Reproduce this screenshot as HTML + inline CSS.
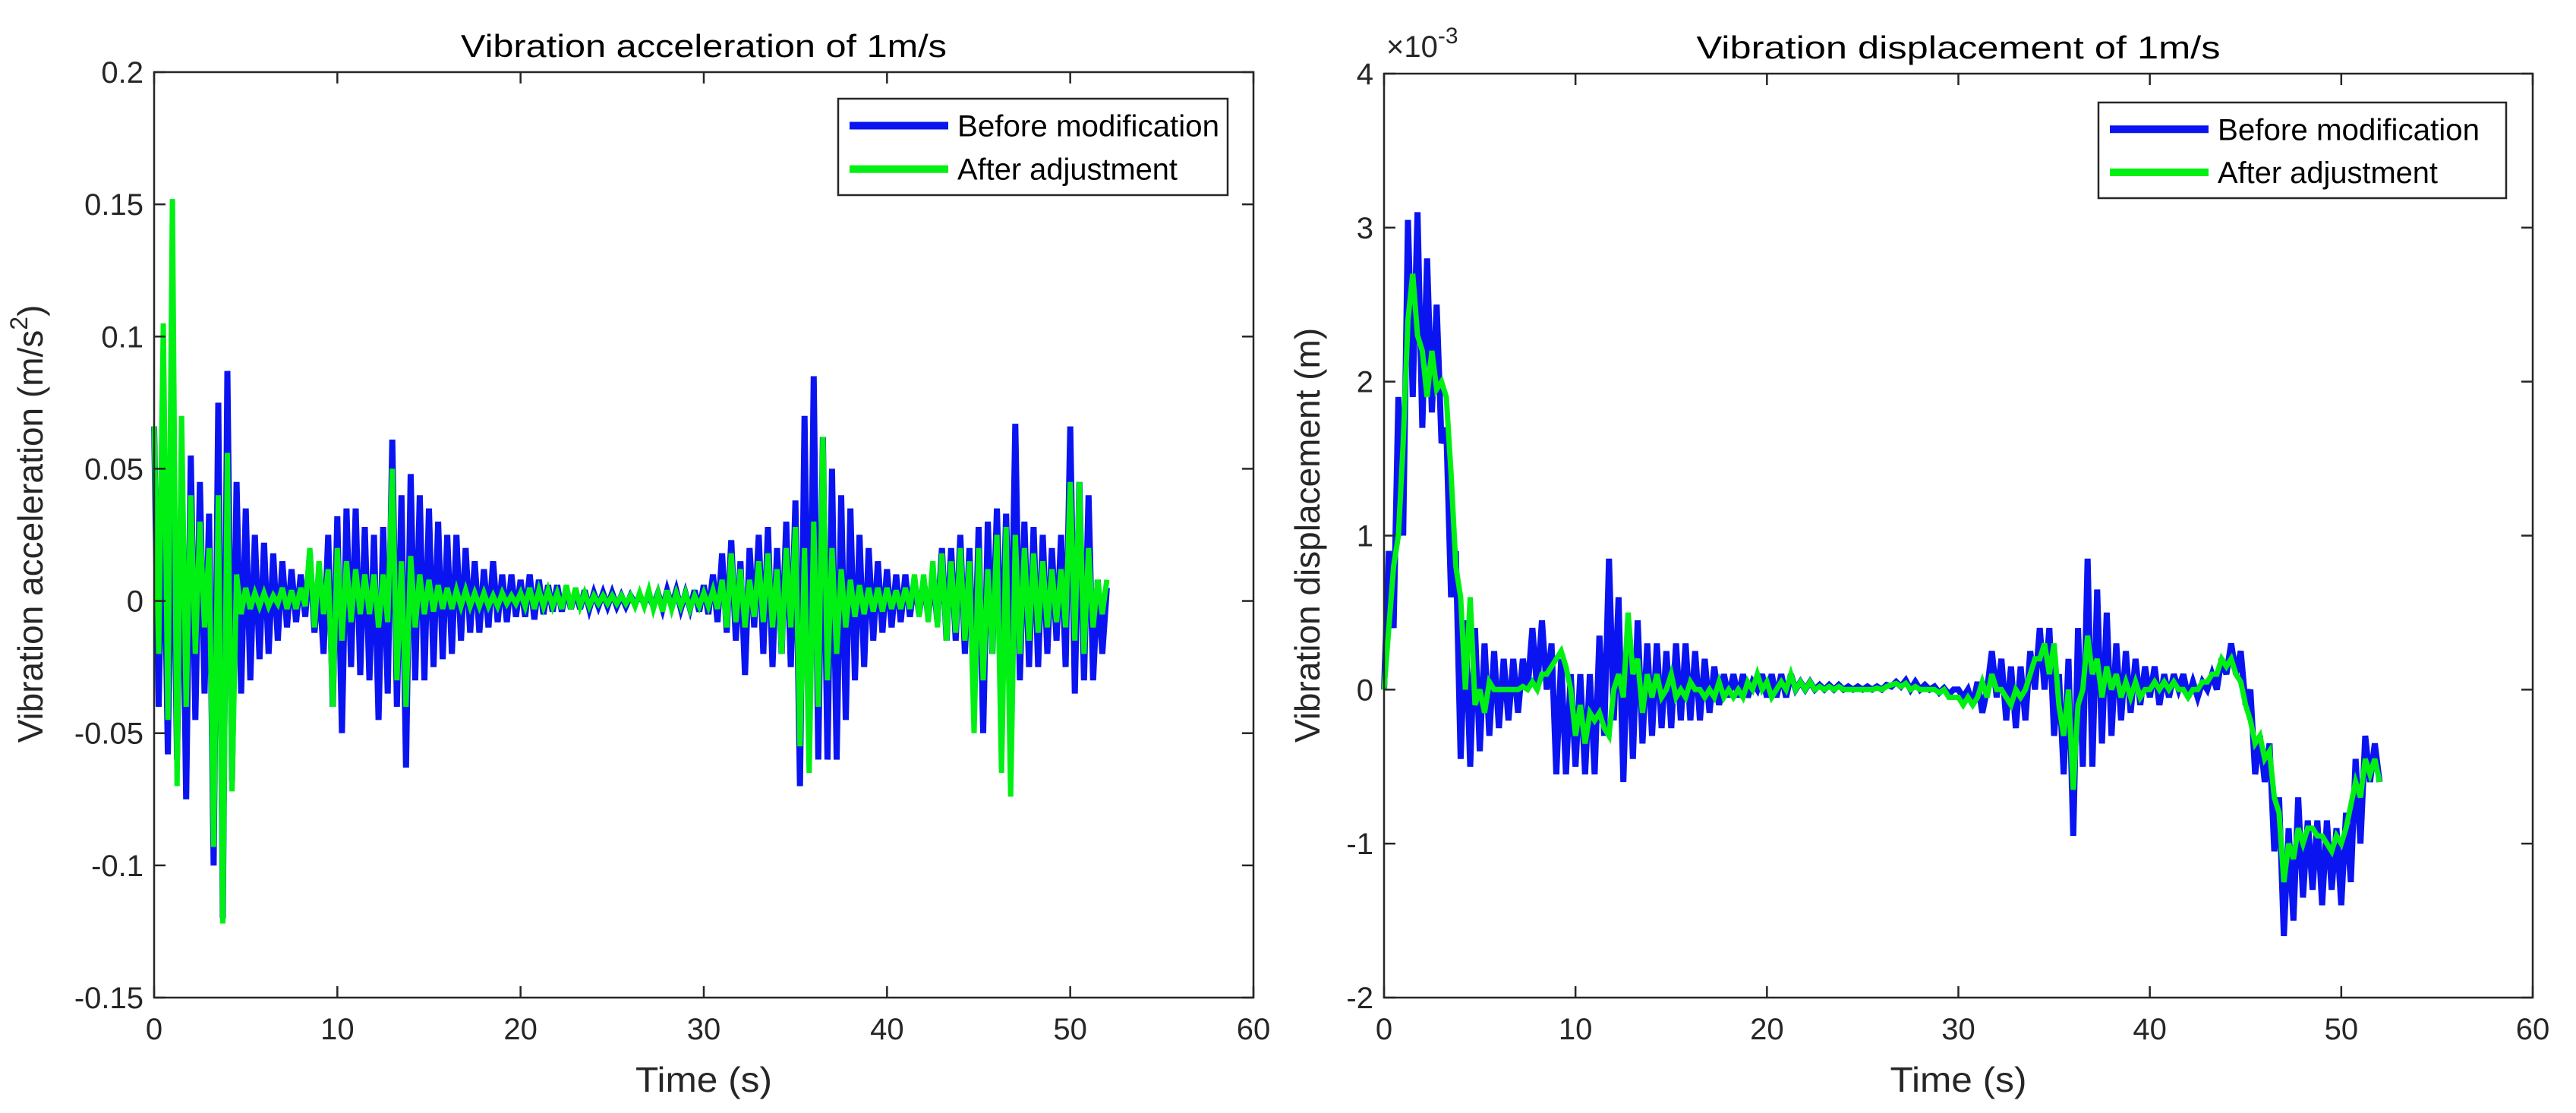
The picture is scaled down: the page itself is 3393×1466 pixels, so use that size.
<!DOCTYPE html>
<html><head><meta charset="utf-8"><style>
body{margin:0;background:#fff;}
svg{display:block;font-family:"Liberation Sans",sans-serif;}
</style></head><body>
<svg id="fig" width="3393" height="1466" viewBox="0 0 3393 1466"></svg>
<script>
const xTicks=[0,10,20,30,40,50,60];
const accTicks=[-0.15,-0.1,-0.05,0,0.05,0.1,0.15,0.2];
const accTickLabels=["-0.15","-0.1","-0.05","0","0.05","0.1","0.15","0.2"];
const dispTicks=[-2,-1,0,1,2,3,4];
const dispTickLabels=["-2","-1","0","1","2","3","4"];
const timeStep=0.25;
const accBefore=[0.066,-0.04,0.05,-0.058,0.06,-0.06,0.05,-0.075,0.055,-0.045,0.045,-0.035,0.033,-0.1,0.075,-0.12,0.087,-0.068,0.045,-0.035,
0.035,-0.03,0.025,-0.022,0.022,-0.02,0.018,-0.015,0.015,-0.01,0.012,-0.008,0.01,-0.006,0.018,-0.012,0.008,-0.02,0.025,-0.04,
0.032,-0.05,0.035,-0.025,0.035,-0.028,0.028,-0.03,0.025,-0.045,0.028,-0.035,0.061,-0.04,0.04,-0.063,0.048,-0.03,0.04,-0.03,
0.035,-0.025,0.03,-0.022,0.025,-0.02,0.025,-0.015,0.02,-0.012,0.015,-0.012,0.012,-0.01,0.015,-0.008,0.01,-0.008,0.01,-0.006,
0.008,-0.006,0.01,-0.007,0.008,-0.005,0.006,-0.004,0.006,-0.004,0.005,-0.003,0.004,-0.003,0.004,-0.003,0.003,-0.002,0.003,-0.002,
0.003,-0.002,0.002,-0.002,0.002,-0.001,0.002,-0.001,0.002,-0.002,0.003,-0.003,0.004,-0.002,0.004,-0.003,0.003,-0.003,0.004,-0.004,
0.006,-0.005,0.01,-0.008,0.018,-0.012,0.023,-0.015,0.015,-0.028,0.02,-0.01,0.025,-0.02,0.028,-0.025,0.02,-0.02,0.03,-0.025,
0.038,-0.07,0.07,-0.055,0.085,-0.06,0.062,-0.06,0.05,-0.06,0.04,-0.045,0.035,-0.03,0.025,-0.025,0.02,-0.015,0.015,-0.012,
0.012,-0.01,0.01,-0.008,0.01,-0.006,0.008,-0.005,0.008,-0.006,0.01,-0.008,0.02,-0.015,0.02,-0.015,0.025,-0.02,0.02,-0.035,
0.028,-0.05,0.03,-0.02,0.035,-0.03,0.033,-0.035,0.067,-0.03,0.03,-0.025,0.028,-0.025,0.025,-0.02,0.02,-0.015,0.025,-0.025,
0.066,-0.035,0.045,-0.03,0.04,-0.03,0.008,-0.02,0.005];
const accAfter=[0.066,-0.02,0.105,-0.045,0.152,-0.07,0.07,-0.04,0.04,-0.02,0.03,-0.01,0.02,-0.093,0.04,-0.122,0.056,-0.072,0.01,-0.005,
0.005,-0.003,0.003,-0.002,0.003,-0.002,0.002,-0.001,0.005,-0.003,0.004,-0.003,0.005,-0.002,0.02,-0.01,0.015,-0.005,0.012,-0.04,
0.02,-0.015,0.015,-0.008,0.012,-0.005,0.01,-0.005,0.01,-0.01,0.01,-0.008,0.05,-0.03,0.015,-0.04,0.017,-0.01,0.01,-0.005,
0.008,-0.004,0.006,-0.003,0.005,-0.003,0.004,-0.002,0.004,-0.002,0.003,-0.002,0.003,-0.002,0.002,-0.002,0.003,-0.001,0.002,-0.001,
0.003,-0.002,0.005,-0.003,0.004,-0.002,0.004,-0.002,0.003,-0.003,0.006,-0.003,0.005,-0.002,0.003,-0.002,0.002,-0.001,0.002,-0.001,
0.002,-0.001,0.002,-0.001,0.002,-0.002,0.003,-0.002,0.004,-0.003,0.003,-0.004,0.004,-0.003,0.003,-0.002,0.003,-0.003,0.002,-0.002,
0.003,-0.002,0.004,-0.003,0.008,-0.01,0.018,-0.008,0.012,-0.01,0.008,-0.006,0.015,-0.008,0.018,-0.01,0.012,-0.02,0.02,-0.01,
0.028,-0.055,0.02,-0.065,0.03,-0.04,0.062,-0.03,0.02,-0.02,0.012,-0.01,0.008,-0.006,0.006,-0.005,0.005,-0.004,0.005,-0.004,
0.005,-0.003,0.004,-0.003,0.005,-0.003,0.01,-0.006,0.01,-0.008,0.015,-0.01,0.018,-0.015,0.015,-0.012,0.02,-0.015,0.015,-0.05,
0.02,-0.03,0.012,-0.02,0.025,-0.065,0.028,-0.074,0.025,-0.02,0.02,-0.015,0.018,-0.012,0.015,-0.01,0.012,-0.008,0.012,-0.01,
0.045,-0.015,0.045,-0.02,0.02,-0.01,0.008,-0.005,0.008];
const dispBefore=[0,0.9,0.4,1.9,1.0,3.05,1.9,3.1,1.7,2.8,1.8,2.5,1.6,1.7,0.6,0.9,-0.45,0.45,-0.5,0.4,
-0.4,0.3,-0.3,0.25,-0.25,0.2,-0.2,0.2,-0.15,0.2,0.0,0.4,0.0,0.45,0.0,0.3,-0.55,0.2,-0.55,0.1,
-0.5,0.1,-0.55,0.1,-0.55,0.35,-0.3,0.85,-0.2,0.6,-0.6,0.45,-0.45,0.45,-0.35,0.3,-0.3,0.3,-0.25,0.25,
-0.25,0.3,-0.2,0.3,-0.2,0.25,-0.2,0.2,-0.15,0.15,-0.1,0.1,-0.05,0.1,-0.05,0.1,-0.05,0.05,0.0,0.1,
-0.05,0.1,-0.05,0.1,-0.05,0.1,0.0,0.05,0.0,0.05,0.0,0.03,0.0,0.03,0.0,0.03,0.0,0.02,0.0,0.02,
0.0,0.02,0.0,0.02,0.0,0.03,0.02,0.05,0.02,0.06,0.0,0.05,0.0,0.03,0.0,0.02,-0.02,0.01,-0.03,0.0,
0.0,-0.05,0.0,-0.1,0.05,-0.15,0.0,0.25,-0.05,0.2,-0.2,0.15,-0.25,0.15,-0.2,0.25,0.0,0.4,0.0,0.4,
-0.3,0.1,-0.55,0.2,-0.95,0.4,-0.5,0.85,-0.5,0.65,-0.35,0.5,-0.3,0.3,-0.2,0.25,-0.15,0.2,-0.1,0.15,
-0.05,0.15,-0.1,0.1,-0.05,0.1,0.0,0.1,-0.05,0.05,-0.05,0.05,0.0,0.1,0.0,0.2,0.1,0.3,0.1,0.25,
-0.1,0.0,-0.55,-0.3,-0.6,-0.35,-1.05,-0.7,-1.6,-0.9,-1.5,-0.7,-1.35,-0.85,-1.3,-0.85,-1.4,-0.85,-1.3,-0.9,
-1.4,-0.8,-1.25,-0.45,-1.0,-0.3,-0.6,-0.35,-0.6];
const dispAfter=[0,0.4,0.8,1.0,1.6,2.4,2.7,2.3,2.2,1.9,2.2,1.95,2.0,1.9,1.4,0.8,0.6,0.0,0.6,-0.1,
0.0,-0.15,0.05,0.0,0.0,0.0,0.0,0.0,0.0,0.02,0.0,0.05,0.0,0.1,0.1,0.15,0.2,0.25,0.15,0.0,
-0.3,-0.1,-0.35,-0.15,-0.2,-0.15,-0.25,-0.3,0.0,0.1,-0.05,0.5,0.1,0.2,-0.15,0.1,-0.05,0.1,-0.05,0.0,
0.1,-0.05,0.0,-0.05,0.05,0.0,0.0,-0.05,0.0,-0.05,0.05,-0.05,0.0,-0.05,0.0,-0.05,0.05,0.0,0.1,0.0,
0.05,-0.05,0.0,0.05,0.0,0.1,0.0,0.05,0.0,0.05,0.0,0.02,0.0,0.02,0.0,0.02,0.0,0.0,0.0,0.0,
0.0,0.0,0.0,0.01,0.0,0.02,0.03,0.04,0.02,0.04,0.0,0.02,0.0,0.0,0.0,0.0,-0.02,0.0,-0.05,-0.05,
-0.05,-0.1,-0.05,-0.1,-0.05,0.05,-0.05,0.1,0.0,0.0,-0.05,-0.1,0.0,-0.05,0.0,0.1,0.2,0.2,0.3,0.1,
0.3,-0.1,-0.3,0.0,-0.65,-0.1,0.0,0.35,0.1,0.2,-0.05,0.15,0.0,0.1,-0.05,0.05,-0.05,0.05,-0.05,0.0,
0.0,0.05,0.0,0.05,0.0,0.05,0.0,0.0,-0.05,0.0,0.0,0.05,0.05,0.1,0.1,0.2,0.15,0.2,0.1,0.05,
-0.1,-0.2,-0.35,-0.3,-0.45,-0.4,-0.7,-0.8,-1.25,-1.0,-1.1,-0.9,-1.0,-0.9,-0.9,-0.95,-0.95,-1.0,-1.05,-0.95,
-1.0,-0.9,-0.75,-0.6,-0.7,-0.45,-0.55,-0.45,-0.6];

const NS="http://www.w3.org/2000/svg";
const svg=document.getElementById('fig');
function mk(tag,attrs,parent){const e=document.createElementNS(NS,tag);for(const k in attrs)e.setAttribute(k,attrs[k]);(parent||svg).appendChild(e);return e;}

function panel(o){
  const g=mk('g',{});
  
  
  const sx=v=>o.x0+(v-0)/(60-0)*(o.x1-o.x0);
  const sy=v=>o.y1-(v-o.ymin)/(o.ymax-o.ymin)*(o.y1-o.y0);
  const plot=mk('rect',{x:o.x0,y:o.y0,width:o.x1-o.x0,height:o.y1-o.y0,fill:'#fff',stroke:'none'},g);
  
  
  const series=[[o.before,'#0a14f0',8,'before-modification-line'],[o.after,'#00f014',7,'after-adjustment-line']];
  series.forEach(s=>{
    const pts=s[0].map((v,i)=>sx(i*timeStep).toFixed(1)+','+sy(v).toFixed(1)).join(' ');
    const pl=mk('polyline',{points:pts,fill:'none',stroke:s[1],'stroke-width':s[2],'stroke-linejoin':'miter','stroke-miterlimit':4},g);
    
    
  });
  const box=mk('rect',{x:o.x0,y:o.y0,width:o.x1-o.x0,height:o.y1-o.y0,fill:'none',stroke:'#262626','stroke-width':2.5},g);
  
  
  const tl=15;
  xTicks.forEach(t=>{
    const x=sx(t);
    mk('line',{x1:x,y1:o.y1,x2:x,y2:o.y1-tl,stroke:'#262626','stroke-width':2.5},g);
    mk('line',{x1:x,y1:o.y0,x2:x,y2:o.y0+tl,stroke:'#262626','stroke-width':2.5},g);
    const tx=mk('text',{x:x,y:o.y1+55,'font-size':40,fill:'#262626','text-anchor':'middle'},g);
    tx.textContent=String(t);
    
    
  });
  o.ticks.forEach((t,i)=>{
    const y=sy(t);
    mk('line',{x1:o.x0,y1:y,x2:o.x0+tl,y2:y,stroke:'#262626','stroke-width':2.5},g);
    mk('line',{x1:o.x1,y1:y,x2:o.x1-tl,y2:y,stroke:'#262626','stroke-width':2.5},g);
    const tx=mk('text',{x:o.x0-14,y:y+14,'font-size':40,fill:'#262626','text-anchor':'end'},g);
    tx.textContent=o.tickLabels[i];
    
    
  });
  const title=mk('text',{x:(o.x0+o.x1)/2,y:o.y0-20,'font-size':42,fill:'#000','text-anchor':'middle',textLength:o.titleLen,lengthAdjust:'spacingAndGlyphs'},g);
  title.textContent=o.title;
  
  
  const xl=mk('text',{x:(o.x0+o.x1)/2,y:1438,'font-size':46,fill:'#262626','text-anchor':'middle',textLength:180,lengthAdjust:'spacingAndGlyphs'},g);
  xl.textContent='Time (s)';
  
  
  const yl=mk('text',{x:0,y:0,'font-size':46,fill:'#262626','text-anchor':'middle',transform:'translate('+o.ylx+','+o.ylc+') rotate(-90)'},g);
  yl.innerHTML=o.ylabel;
  
  
  const lg=mk('g',{},g);
  
  
  mk('rect',{x:o.lx,y:o.ly,width:o.lw,height:o.lh,fill:'#fff',stroke:'#262626','stroke-width':2.5},lg);
  [['Before modification','#0a14f0',345],['After adjustment','#00f014',290]].forEach((e,i)=>{
    const yy=o.ly+o.lh*(0.28+0.45*i);
    const it=mk('g',{},lg);
    
    
    mk('line',{x1:o.lx+15,y1:yy,x2:o.lx+145,y2:yy,stroke:e[1],'stroke-width':10},it);
    const t=mk('text',{x:o.lx+157,y:yy+14,'font-size':40,fill:'#000',textLength:e[2],lengthAdjust:'spacingAndGlyphs'},it);
    t.textContent=e[0];
  });
}
panel({id:'acceleration',x0:203,x1:1651,y0:95,y1:1314,ymin:-0.15,ymax:0.2,ticks:accTicks,tickLabels:accTickLabels,
  before:accBefore,after:accAfter,title:'Vibration acceleration of 1m/s',titleLen:640,
  ylabel:'Vibration acceleration (m/s<tspan font-size="32" dy="-20">2</tspan><tspan dy="20">)</tspan>',ylx:56,ylc:690,
  lx:1104,ly:130,lw:513,lh:127});
panel({id:'displacement',x0:1823,x1:3336,y0:97,y1:1314,ymin:-2,ymax:4,ticks:dispTicks,tickLabels:dispTickLabels,
  before:dispBefore,after:dispAfter,title:'Vibration displacement of 1m/s',titleLen:690,
  ylabel:'Vibration displacement (m)',ylx:1738,ylc:705,
  lx:2764,ly:135,lw:537,lh:126});
const ex=mk('text',{x:1826,y:75,'font-size':40,fill:'#262626'});
ex.innerHTML='×10<tspan font-size="30" dy="-18">-3</tspan>';


</script>
</body></html>
